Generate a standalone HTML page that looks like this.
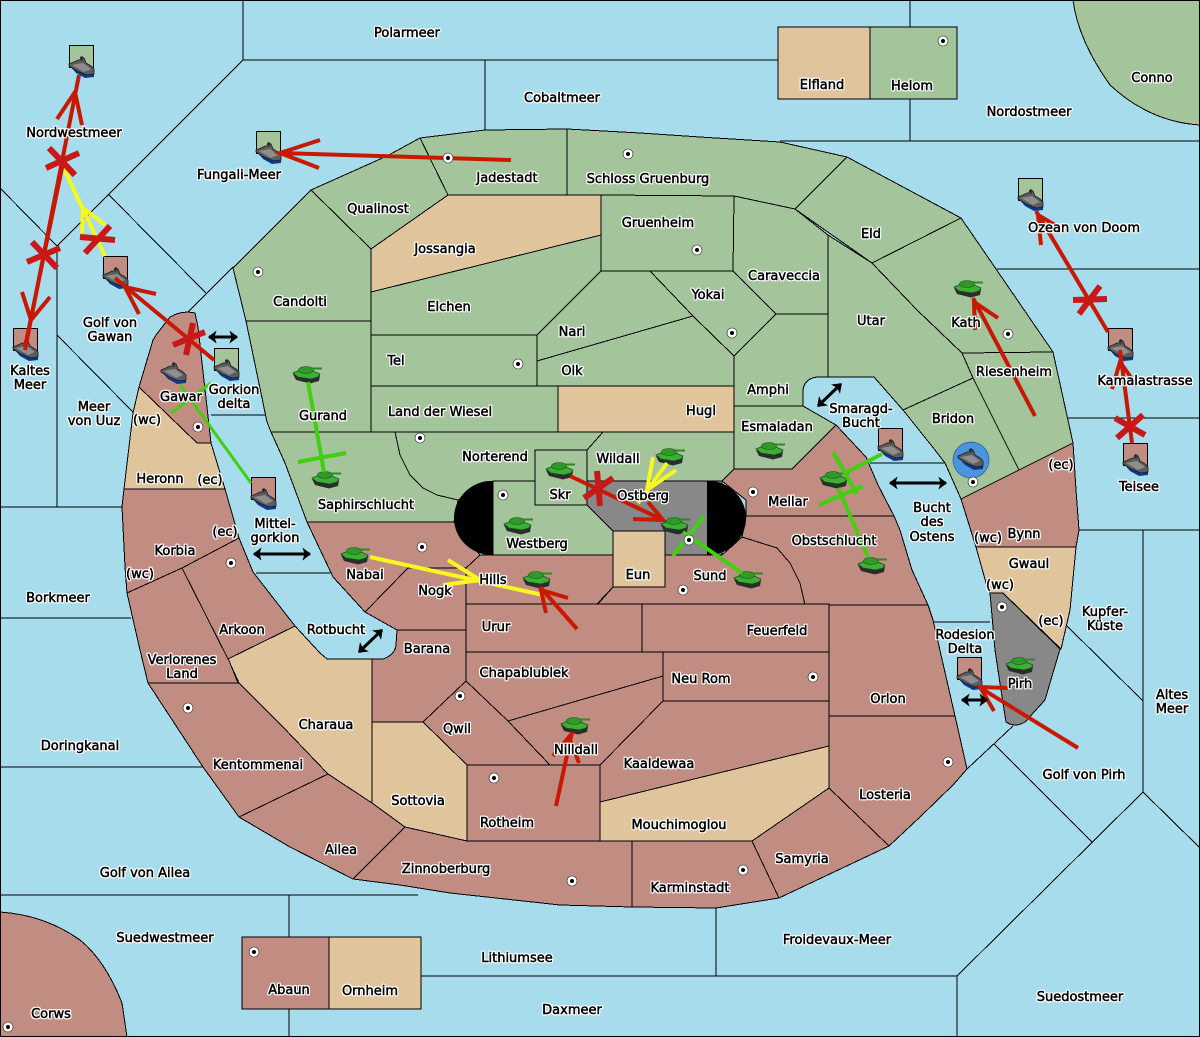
<!DOCTYPE html>
<html><head><meta charset="utf-8"><style>
html,body{margin:0;padding:0;background:#a6dceb}
svg{display:block}
.l polygon,.l path{stroke:#000;stroke-width:1;stroke-linejoin:round}
.g{fill:#a4c49b}.t{fill:#e0c49c}.r{fill:#c18d83}.y{fill:#888}
.s line,.s polyline{stroke:#000;stroke-width:1;fill:none}
.txt{font-family:"DejaVu Sans",sans-serif;font-size:13px;fill:#000;stroke:#000;stroke-width:.5;text-anchor:middle;filter:drop-shadow(1px 0 0 #fff) drop-shadow(-1px 0 0 #fff) drop-shadow(0 1px 0 #fff) drop-shadow(0 -1px 0 #fff)}
.a{stroke:#c81800;stroke-width:4;fill:none;stroke-linejoin:miter}
.x{stroke:#c81818;stroke-width:6;fill:none}
.yl{stroke:#f8f820;stroke-width:4;fill:none}
.gr{stroke:#40d010;stroke-width:4;fill:none}
.b{stroke:#000;stroke-width:3;fill:none}
</style></head><body>
<svg width="1200" height="1037" viewBox="0 0 1200 1037" xmlns="http://www.w3.org/2000/svg">
<defs>
<marker id="h" viewBox="0 0 8 12" refX="7" refY="6" markerWidth="9" markerHeight="13" markerUnits="userSpaceOnUse" orient="auto-start-reverse"><path d="M0,0L8,6L0,12L2,6Z" fill="#000"/></marker>
<g id="ship">
<path d="M0,20L7,28L16,33L25,32L25,26L0,20Z" fill="#0a3a8c"/>
<path d="M0,19L5,17L9,15L11,15L12,12L15,13L17,18L22,21L25,24L25,29L18,30L8,26L0,21Z" fill="#5c5c5c" stroke="#1c1c1c" stroke-width=".8"/>
<path d="M3,20L14,18L22,24L15,27Z" fill="#8e8e8e"/>
<path d="M13,11V16M11,13H15" stroke="#222" stroke-width="1"/>
</g>
<g id="tank">
<path d="M0,8L3,14L17,17.500L26,15L27,9Z" fill="#2c2c2c"/>
<path d="M0,7L6,4.500L20,5L27,8L25,11L18,13L5,11Z" fill="#3cb034" stroke="#1a4e1a" stroke-width=".7"/>
<ellipse cx="13" cy="4" rx="7.500" ry="3.500" fill="#2f9a2a" stroke="#1a4e1a" stroke-width=".6"/>
<path d="M17,2.500H29" stroke="#2c8a24" stroke-width="2"/>
</g>
<g id="dot"><circle r="5" fill="#fff" stroke="#222" stroke-width=".6"/><circle r="2" fill="#000"/></g>
</defs>
<rect width="1200" height="1037" fill="#a6dceb"/>
<g class="s" shape-rendering="crispEdges">
<line x1="243" y1="0" x2="243" y2="60"/><line x1="243" y1="60" x2="778" y2="60"/>
<line x1="910" y1="0" x2="910" y2="27"/><line x1="910" y1="99" x2="910" y2="141"/>
<line x1="485" y1="60" x2="485" y2="130"/><line x1="780" y1="141" x2="1200" y2="141"/>
<line x1="243" y1="60" x2="57" y2="246"/><line x1="0" y1="188" x2="57" y2="246"/>
<line x1="109" y1="195" x2="206" y2="293"/><line x1="233" y1="267" x2="188" y2="312"/>
<line x1="57" y1="246" x2="57" y2="507"/><line x1="57" y1="335" x2="133" y2="412"/>
<line x1="0" y1="507" x2="122" y2="507"/><line x1="0" y1="618" x2="131" y2="618"/>
<line x1="0" y1="767" x2="203" y2="767"/><line x1="0" y1="895" x2="418" y2="895"/>
<line x1="289" y1="895" x2="289" y2="937"/><line x1="289" y1="1009" x2="289" y2="1037"/>
<line x1="421" y1="976" x2="957" y2="976"/><line x1="716" y1="908" x2="716" y2="976"/>
<line x1="957" y1="976" x2="957" y2="1037"/><line x1="957" y1="976" x2="1143" y2="792"/>
<line x1="967" y1="769" x2="1013" y2="726"/><line x1="994" y1="744" x2="1092" y2="842"/>
<line x1="1143" y1="792" x2="1200" y2="848"/><line x1="1143" y1="530" x2="1143" y2="792"/>
<line x1="1079" y1="530" x2="1200" y2="530"/><line x1="1066" y1="625" x2="1143" y2="701"/>
<line x1="1068" y1="418" x2="1200" y2="418"/><line x1="997" y1="269" x2="1200" y2="269"/>
<line x1="211" y1="415" x2="266" y2="415"/><line x1="256" y1="573" x2="330" y2="573"/>
<line x1="870" y1="463" x2="945" y2="463"/><line x1="934" y1="622" x2="990" y2="622"/>
</g>
<g class="l" shape-rendering="crispEdges">
<polygon class="t" points="778,27 870,27 870,99 778,99"/>
<polygon class="g" points="870,27 957,27 957,99 870,99"/>
<path class="g" d="M1073,0Q1078,40 1110,85Q1150,122 1200,125L1200,0Z"/>
<path class="r" d="M0,912Q45,915 80,940Q105,960 122,1003L127,1037L0,1037Z"/>
<polygon class="r" points="242,937 329,937 329,1009 242,1009"/>
<polygon class="t" points="329,937 421,937 421,1009 329,1009"/>
<polygon class="g" points="233,268 311,190 371,249 371,321 246,321"/>
<polygon class="g" points="311,190 387,156 420,138 448,195 371,249"/>
<polygon class="g" points="420,138 485,130 567,129 567,195 448,195"/>
<polygon class="g" points="567,129 640,133 700,137 780,142 847,157 795,209 734,196 567,195"/>
<polygon class="t" points="448,195 601,195 601,235 371,292 371,249"/>
<polygon class="g" points="601,195 734,196 733,271 601,271"/>
<polygon class="g" points="371,292 601,235 601,271 537,335 371,335"/>
<polygon class="g" points="601,271 650,271 693,316 537,361 537,335"/>
<polygon class="g" points="650,271 733,271 776,314 734,356 693,316"/>
<polygon class="g" points="734,196 795,209 828,235 828,314 776,314 733,271"/>
<polygon class="g" points="847,157 961,218 872,263 795,209"/>
<polygon class="g" points="961,218 1053,352 962,353 917,310 872,263"/>
<polygon class="g" points="828,235 872,263 917,310 962,353 973,378 903,410 874,377 828,377"/>
<polygon class="g" points="962,353 1053,352 1073,443 1019,470 973,378"/>
<polygon class="g" points="973,378 1019,470 961,499 945,463 935,450 903,410"/>
<path class="g" d="M734,356L776,314L828,314L828,377L817,377Q803,379 803,392L803,406L734,406Z"/>
<polygon class="g" points="537,361 693,316 734,356 734,386 537,386"/>
<polygon class="g" points="371,335 537,335 537,386 371,386"/>
<polygon class="g" points="371,386 558,386 558,432 371,432"/>
<polygon class="t" points="558,386 734,386 734,432 558,432"/>
<polygon class="g" points="246,321 371,321 371,432 271,432 267,422"/>
<polygon class="g" points="271,432 395,432 400,455 410,475 423,488 437,495 458,500 454,522 307,522 285,463"/>
<polygon class="g" points="395,432 603,432 587,450 535,450 535,481 493,481 458,500 437,495 423,488 410,475 400,455"/>
<polygon class="g" points="493,481 535,481 535,505 587,505 613,531 613,555 493,555"/>
<polygon class="g" points="603,432 734,432 734,469 722,481 587,481 587,450"/>
<polygon class="g" points="734,406 803,406 836,425 792,469 734,469"/>
<polygon class="y" points="587,481 722,481 722,555 665,555 665,531 613,531 587,505"/>
<polygon class="g" points="535,450 587,450 587,505 535,505"/>
<polygon class="r" points="792,469 836,425 866,457 878,485 894,516 746,516 746,500 722,481 734,469"/>
<polygon class="r" points="746,516 894,516 900,530 912,570 928,605 805,605 800,583 790,563 777,548 742,537"/>
<polygon class="r" points="665,555 722,555 742,537 777,548 790,563 800,583 805,605 597,605 613,587 665,587"/>
<polygon class="r" points="480,555 613,555 613,587 597,604 466,604 466,568"/>
<polygon class="r" points="307,522 454,522 480,555 466,568 408,568 365,612 333,577"/>
<polygon class="r" points="408,568 466,568 466,630 397,630 365,612"/>
<polygon class="t" points="613,531 665,531 665,587 613,587"/>
<polygon class="r" points="466,604 642,604 642,652 466,652"/>
<polygon class="r" points="642,604 829,604 829,652 642,652"/>
<polygon class="r" points="663,652 829,652 829,701 663,701"/>
<polygon class="r" points="466,652 663,652 663,676 508,721 466,681"/>
<polygon class="r" points="508,721 663,676 663,701 600,765 550,765"/>
<polygon class="r" points="466,681 508,721 550,765 467,765 423,722"/>
<path class="r" d="M397,630L466,630L466,681L423,722L372,722L372,659L383,659Q395,655 396,645Z"/>
<polygon class="t" points="295,626 320,653 327,659 372,659 372,803 328,774 283,727 239,683 228,659"/>
<polygon class="t" points="372,722 423,722 467,765 467,841 405,827 372,803"/>
<polygon class="r" points="467,765 600,765 600,841 467,841"/>
<polygon class="r" points="600,765 663,701 829,701 829,746 600,802"/>
<polygon class="t" points="600,802 829,746 829,788 752,841 600,841"/>
<polygon class="r" points="829,605 928,605 933,620 955,716 829,716"/>
<polygon class="r" points="829,716 955,716 967,769 953,785 920,817 889,846 829,788"/>
<polygon class="r" points="752,841 829,788 889,846 779,898"/>
<polygon class="r" points="632,841 752,841 779,898 716,908 632,907"/>
<polygon class="r" points="405,827 467,841 632,841 632,907 560,905 450,893 400,885 353,879"/>
<polygon class="r" points="328,774 372,803 405,827 353,879 290,847 239,817"/>
<polygon class="r" points="239,683 283,727 328,774 239,817 203,767 148,683"/>
<polygon class="r" points="127,593 182,568 228,658 238,683 148,683 140,650"/>
<polygon class="r" points="182,568 239,538 253,572 295,626 228,659"/>
<polygon class="r" points="124,489 225,489 239,538 182,568 127,593 125,567 122,507"/>
<polygon class="t" points="139,387 197,443 211,443 225,489 124,489 133,413"/>
<path class="r" d="M153,340L156,335L170,317Q182,310 195,313L198,327L211,443L197,443L139,387Z"/>
<polygon class="r" points="961,499 1019,470 1073,443 1076,490 1079,530 1076,547 976,547"/>
<polygon class="t" points="976,547 1076,547 1070,610 1061,649 1003,593 990,593 988,590"/>
<path class="y" d="M990,593L1003,593L1060,649L1045,700L1025,722Q1015,728 1006,722L1001,690L995,650Z"/>
</g>
<path d="M493,481L488,481C470,483 454,498 454,518C454,538 470,553 488,555L493,555Z" fill="#000"/>
<path d="M707,481L712,481C730,483 746,498 746,518C746,538 730,553 712,555L707,555Z" fill="#000"/>
<rect x=".5" y=".5" width="1199" height="1036" fill="none" stroke="#000"/>
<circle cx="971" cy="460" r="18" fill="#4a94e0" stroke="#2a5a90" stroke-width=".7"/>
<use href="#dot" x="628" y="154"/><use href="#dot" x="697" y="250"/><use href="#dot" x="258" y="272"/><use href="#dot" x="1008" y="334"/><use href="#dot" x="732" y="333"/><use href="#dot" x="518" y="364"/><use href="#dot" x="420" y="438"/><use href="#dot" x="503" y="495"/><use href="#dot" x="422" y="547"/><use href="#dot" x="753" y="492"/><use href="#dot" x="198" y="427"/><use href="#dot" x="231" y="563"/><use href="#dot" x="683" y="590"/><use href="#dot" x="1002" y="607"/><use href="#dot" x="460" y="696"/><use href="#dot" x="813" y="677"/><use href="#dot" x="188" y="708"/><use href="#dot" x="948" y="762"/><use href="#dot" x="494" y="778"/><use href="#dot" x="743" y="870"/><use href="#dot" x="572" y="881"/><use href="#dot" x="254" y="952"/><use href="#dot" x="8" y="1027"/><use href="#dot" x="973" y="482"/><use href="#dot" x="943" y="41"/>
<g stroke="#000" stroke-width="1" shape-rendering="crispEdges">
<rect x="69.500" y="45.500" width="24" height="22" class="g"/><rect x="256.500" y="131.500" width="24" height="22" class="g"/><rect x="214.500" y="348.500" width="24" height="22" class="g"/><rect x="1018.500" y="178.500" width="24" height="22" class="g"/>
<rect x="103.500" y="256.500" width="24" height="22" class="r"/><rect x="13.500" y="328.500" width="24" height="22" class="r"/><rect x="1108.500" y="328.500" width="24" height="22" class="r"/><rect x="1123.500" y="443.500" width="24" height="22" class="r"/><rect x="878.500" y="428.500" width="24" height="22" class="r"/><rect x="251.500" y="477.500" width="24" height="22" class="r"/><rect x="957.500" y="657.500" width="24" height="22" class="r"/>
</g>
<use href="#ship" x="69" y="45"/><use href="#ship" x="256" y="131"/><use href="#ship" x="214" y="348"/><use href="#ship" x="1018" y="178"/><use href="#ship" x="103" y="256"/><use href="#ship" x="13" y="328"/><use href="#ship" x="1108" y="328"/><use href="#ship" x="1123" y="443"/><use href="#ship" x="878" y="428"/><use href="#ship" x="251" y="477"/><use href="#ship" x="957" y="657"/><use href="#ship" x="161" y="351"/><use href="#ship" x="958" y="437"/>
<use href="#tank" x="293" y="366"/><use href="#tank" x="312" y="471"/><use href="#tank" x="341" y="547"/><use href="#tank" x="523" y="571"/><use href="#tank" x="504" y="517"/><use href="#tank" x="546" y="462"/><use href="#tank" x="656" y="448"/><use href="#tank" x="661" y="517"/><use href="#tank" x="734" y="571"/><use href="#tank" x="756" y="442"/><use href="#tank" x="820" y="471"/><use href="#tank" x="858" y="557"/><use href="#tank" x="1006" y="657"/><use href="#tank" x="561" y="717"/><use href="#tank" x="954" y="280"/>
<g class="yl">
<path d="M63,167L105,256M82,233L83,208L105,225"/>
<path d="M370,557L543,595M448,560L480,580L443,585"/>
<path d="M667,463L638,503M653,457L647,490L676,470"/>
</g>
<g class="gr">
<path d="M308,382L324,472M298,462L346,453"/>
<path d="M180,385L251,483M171,413L211,383" stroke-width="3"/>
<path d="M882,454L847,472M833,452L857,494"/>
<path d="M838,488L868,557M819,505L863,486"/>
<path d="M683,532L742,573M673,556L704,516"/>
</g>
<g class="a">
<path d="M511,160L280,153M320,140L280,153L319,168"/>
<path d="M25,350L79,75M57,119L75,92L82,125"/>
<path d="M63,163L25,347M22,292L31,320L50,297"/>
<path d="M214,360L115,278M156,294L125,287L139,314"/>
<path d="M1108,332L1036,211M1041,245L1038,215L1055,225"/>
<path d="M1132,443L1120,350M1112,389L1120,362L1137,386"/>
<path d="M1035,416L973,298M975,330L974,302L998,318"/>
<path d="M570,476L663,520M633,519L663,520L648,502"/>
<path d="M577,629L540,587M546,613L541,590L568,598"/>
<path d="M556,806L572,732M553,756L569,737L579,763"/>
<path d="M1078,748L979,687M1008,688L980,687L994,711"/>
</g>
<use href="#dot" x="448" y="158"/><use href="#dot" x="689" y="540"/>
<g class="x">
<path d="M49,148L75,175M46,168L79,153"/>
<path d="M32,242L57,268M27,262L60,248"/>
<path d="M80,237L115,240M85,253L110,226"/>
<path d="M173,345L205,332M186,355L193,323"/>
<path d="M1073,300L1107,299M1079,314L1100,286"/>
<path d="M1115,418L1145,435M1117,438L1143,415"/>
<path d="M584,498L613,478M597,471L600,506"/>
</g>
<g class="b">
<line x1="209" y1="337" x2="237" y2="337" marker-start="url(#h)" marker-end="url(#h)"/>
<line x1="254" y1="554" x2="310" y2="554" marker-start="url(#h)" marker-end="url(#h)"/>
<line x1="359" y1="652" x2="382" y2="630" marker-start="url(#h)" marker-end="url(#h)"/>
<line x1="818" y1="406" x2="841" y2="384" marker-start="url(#h)" marker-end="url(#h)"/>
<line x1="890" y1="483" x2="946" y2="483" marker-start="url(#h)" marker-end="url(#h)"/>
<line x1="962" y1="700" x2="987" y2="700" marker-start="url(#h)" marker-end="url(#h)"/>
</g>
<g class="txt">
<text x="407" y="37">Polarmeer</text><text x="562" y="102">Cobaltmeer</text><text x="822" y="89">Elfland</text><text x="912" y="90">Helom</text><text x="1152" y="82">Conno</text><text x="1029" y="116">Nordostmeer</text><text x="74" y="137">Nordwestmeer</text><text x="239" y="179">Fungali-Meer</text><text x="378" y="213">Qualinost</text><text x="507" y="182">Jadestadt</text><text x="648" y="183">Schloss Gruenburg</text><text x="658" y="227">Gruenheim</text><text x="445" y="253">Jossangia</text><text x="871" y="238">Eld</text><text x="784" y="280">Caraveccia</text><text x="708" y="299">Yokai</text><text x="300" y="306">Candolti</text><text x="449" y="311">Elchen</text><text x="572" y="336">Nari</text><text x="871" y="325">Utar</text><text x="966" y="327">Kath</text><text x="1084" y="232">Ozean von Doom</text>
<text x="110" y="327">Golf von</text><text x="110" y="341">Gawan</text><text x="396" y="365">Tel</text><text x="572" y="375">Olk</text><text x="1014" y="376">Riesenheim</text><text x="1145" y="385">Kamalastrasse</text><text x="30" y="375">Kaltes</text><text x="30" y="389">Meer</text><text x="768" y="394">Amphi</text><text x="181" y="401">Gawar</text><text x="234" y="394">Gorkion</text><text x="234" y="408">delta</text><text x="94" y="411">Meer</text><text x="94" y="425">von Uuz</text><text x="440" y="416">Land der Wiesel</text><text x="701" y="415">Hugl</text><text x="323" y="420">Gurand</text><text x="147" y="424">(wc)</text><text x="953" y="423">Bridon</text><text x="861" y="413">Smaragd-</text><text x="861" y="427">Bucht</text><text x="777" y="431">Esmaladan</text><text x="495" y="461">Norterend</text><text x="618" y="463">Wildall</text><text x="1061" y="469">(ec)</text><text x="160" y="483">Heronn</text><text x="210" y="484">(ec)</text><text x="1139" y="491">Teisee</text><text x="560" y="499">Skr</text><text x="643" y="500">Ostberg</text><text x="788" y="506">Mellar</text><text x="366" y="509">Saphirschlucht</text><text x="932" y="512">Bucht</text><text x="932" y="526">des</text><text x="932" y="541">Ostens</text><text x="275" y="528">Mittel-</text><text x="275" y="542">gorkion</text><text x="225" y="536">(ec)</text><text x="1024" y="538">Bynn</text><text x="988" y="542">(wc)</text><text x="834" y="545">Obstschlucht</text><text x="537" y="548">Westberg</text><text x="175" y="555">Korbia</text><text x="1029" y="568">Gwaul</text><text x="1000" y="589">(wc)</text><text x="710" y="580">Sund</text><text x="638" y="579">Eun</text><text x="365" y="579">Nabai</text><text x="493" y="584">Hills</text><text x="140" y="578">(wc)</text><text x="435" y="595">Nogk</text><text x="58" y="602">Borkmeer</text><text x="1105" y="616">Kupfer-</text><text x="1105" y="630">Küste</text><text x="1051" y="625">(ec)</text><text x="496" y="631">Urur</text><text x="777" y="635">Feuerfeld</text><text x="242" y="634">Arkoon</text><text x="336" y="634">Rotbucht</text><text x="965" y="639">Rodesion</text><text x="965" y="653">Delta</text><text x="427" y="653">Barana</text><text x="524" y="677">Chapablublek</text><text x="182" y="664">Verlorenes</text><text x="182" y="678">Land</text><text x="701" y="683">Neu Rom</text><text x="1020" y="688">Pirh</text><text x="1172" y="699">Altes</text><text x="1172" y="713">Meer</text><text x="888" y="703">Orlon</text><text x="457" y="733">Qwil</text><text x="326" y="729">Charaua</text><text x="80" y="750">Doringkanal</text><text x="576" y="754">Nilldall</text><text x="659" y="768">Kaaldewaa</text><text x="258" y="769">Kentommenai</text><text x="1084" y="779">Golf von Pirh</text><text x="885" y="799">Losteria</text><text x="418" y="805">Sottovia</text><text x="507" y="827">Rotheim</text><text x="679" y="829">Mouchimoglou</text><text x="341" y="854">Ailea</text><text x="802" y="863">Samyria</text><text x="446" y="873">Zinnoberburg</text><text x="145" y="877">Golf von Ailea</text><text x="690" y="892">Karminstadt</text><text x="165" y="942">Suedwestmeer</text><text x="837" y="944">Froidevaux-Meer</text><text x="517" y="962">Lithiumsee</text><text x="289" y="994">Abaun</text><text x="370" y="995">Ornheim</text><text x="572" y="1014">Daxmeer</text><text x="1080" y="1001">Suedostmeer</text><text x="51" y="1018">Corws</text>
</g>
</svg>
</body></html>
